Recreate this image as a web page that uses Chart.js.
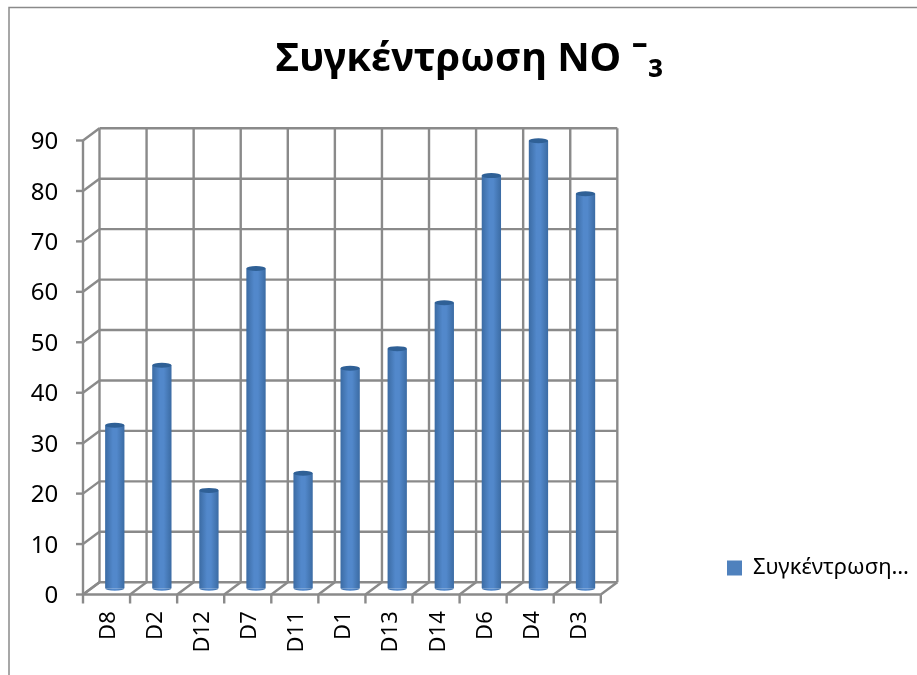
<!DOCTYPE html>
<html>
<head>
<meta charset="utf-8">
<style>
  html, body { margin: 0; padding: 0; background: #fff; }
  canvas { display: block; }
</style>
<script src="https://cdn.jsdelivr.net/npm/chart.js@4"></script>
</head>
<body>
<canvas id="myChart" width="917" height="675"></canvas>
<script>
const categorias = ['D8', 'D2', 'D12', 'D7', 'D11', 'D1', 'D13', 'D14', 'D6', 'D4', 'D3'];
const valores = [32.3, 44.2, 19.4, 63.4, 22.8, 43.6, 47.5, 56.6, 81.8, 88.7, 78.2];
const etiquetaSerie = 'Συγκέντρωση…';
const titulo = 'Συγκέντρωση ΝΟ ˉ₃';

const gris = '#8a8a8a';
const azul = '#4f81bd';
const fuente = '"Noto Sans", "Open Sans", sans-serif';

// depth of the fake 3D box, measured from the plane the bars stand on
const frente = { x: -8.25, y: 6.25 };
const fondo = { x: 8.25, y: -6 };

function linea(ctx, x1, y1, x2, y2) {
    ctx.beginPath();
    ctx.moveTo(x1, y1);
    ctx.lineTo(x2, y2);
    ctx.stroke();
}

function gradienteBarra(ctx, cx, radio) {
    const g = ctx.createLinearGradient(cx - radio, 0, cx + radio, 0);
    g.addColorStop(0, '#3b6ba3');
    g.addColorStop(0.4, '#5288cb');
    g.addColorStop(0.6, '#5288cb');
    g.addColorStop(1, '#3b6ba3');
    return g;
}

const caja3d = {
    id: 'caja3d',
    beforeDatasetsDraw(chart) {
        const { ctx, scales: { x, y } } = chart;
        const paso = (x.right - x.left) / categorias.length;
        ctx.save();
        ctx.strokeStyle = gris;
        ctx.lineWidth = 2.4;

        // horizontal lines: tick, side wall, back wall
        for (const tick of y.ticks) {
            const py = y.getPixelForValue(tick.value);
            linea(ctx, x.left + frente.x - 7, py + frente.y, x.left + frente.x, py + frente.y);
            linea(ctx, x.left + frente.x, py + frente.y, x.left + fondo.x, py + fondo.y);
            linea(ctx, x.left + fondo.x, py + fondo.y, x.right + fondo.x, py + fondo.y);
        }

        // vertical lines on the back wall, floor lines and ticks under the floor
        for (let i = 0; i <= categorias.length; i++) {
            const px = x.left + i * paso;
            linea(ctx, px + fondo.x, y.top + fondo.y, px + fondo.x, y.bottom + fondo.y);
            linea(ctx, px + frente.x, y.bottom + frente.y, px + fondo.x, y.bottom + fondo.y);
            linea(ctx, px + frente.x, y.bottom + frente.y, px + frente.x, y.bottom + frente.y + 9);
        }

        // front edges
        linea(ctx, x.left + frente.x, y.top + frente.y, x.left + frente.x, y.bottom + frente.y);
        linea(ctx, x.left + frente.x, y.bottom + frente.y, x.right + frente.x, y.bottom + frente.y);
        ctx.restore();
    },
    afterDatasetsDraw(chart) {
        // caps of the cylinders
        const { ctx } = chart;
        ctx.save();
        for (const barra of chart.getDatasetMeta(0).data) {
            const radio = barra.width / 2;
            ctx.fillStyle = '#2f6096';
            ctx.beginPath();
            ctx.ellipse(barra.x, barra.y, radio, 2.5, 0, 0, Math.PI * 2);
            ctx.fill();
            ctx.fillStyle = gradienteBarra(ctx, barra.x, radio);
            ctx.beginPath();
            ctx.ellipse(barra.x, barra.base, radio, 2.5, 0, 0, Math.PI);
            ctx.fill();
        }
        ctx.restore();
    }
};

const marcoYLeyenda = {
    id: 'marcoYLeyenda',
    beforeDraw(chart) {
        const { ctx } = chart;
        ctx.save();
        ctx.strokeStyle = gris;
        ctx.lineWidth = 1.5;
        ctx.beginPath();
        ctx.moveTo(9, 675);
        ctx.lineTo(9, 7.5);
        ctx.lineTo(917, 7.5);
        ctx.stroke();
        ctx.restore();
    },
    afterLayout(chart) {
        // legend sits low on the right, title a little right of centre
        const leyenda = chart.legend;
        leyenda.left = 727;
        leyenda.right = 917;
        leyenda.top = 557;
        leyenda.bottom = 603;
        chart.titleBlock.left = 0;
        chart.titleBlock.right = 939;
    }
};

new Chart(document.getElementById('myChart'), {
    type: 'bar',
    data: {
        labels: categorias,
        datasets: [{
            label: etiquetaSerie,
            data: valores,
            categoryPercentage: 1,
            barPercentage: 0.41,
            borderWidth: 0,
            backgroundColor(context) {
                if (context.type !== 'data' || !context.chart.chartArea) return azul;
                const { chart, dataIndex } = context;
                const cx = chart.scales.x.getPixelForValue(dataIndex);
                return gradienteBarra(chart.ctx, cx, 9.7);
            }
        }]
    },
    plugins: [caja3d, marcoYLeyenda],
    options: {
        responsive: false,
        animation: false,
        layout: { padding: { left: 0, right: 116, top: 0, bottom: 0 } },
        scales: {
            x: {
                grid: { display: false },
                border: { display: false },
                ticks: {
                    color: '#000',
                    font: { family: fuente, size: 22 },
                    minRotation: 90,
                    maxRotation: 90,
                    padding: 15,
                    labelOffset: -6
                },
                afterFit(scale) { scale.height = 675 - 588.25; }
            },
            y: {
                min: 0,
                max: 90,
                grid: { display: false },
                border: { display: false },
                ticks: {
                    stepSize: 10,
                    color: '#000',
                    font: { family: fuente, size: 24 },
                    padding: 25,
                    labelOffset: 8
                },
                afterFit(scale) { scale.width = 91.25; }
            }
        },
        plugins: {
            tooltip: { enabled: false },
            title: {
                display: true,
                text: titulo,
                color: '#000',
                font: { family: fuente, size: 40, weight: 'bold', lineHeight: 1.2 },
                padding: { top: 36, bottom: 50.25 }
            },
            legend: {
                display: true,
                position: 'right',
                align: 'start',
                labels: {
                    boxWidth: 15,
                    boxHeight: 15,
                    color: '#000',
                    font: { family: fuente, size: 22 },
                    padding: 0,
                    generateLabels(chart) {
                        const items = Chart.defaults.plugins.legend.labels.generateLabels(chart);
                        items.forEach(item => { item.fillStyle = azul; });
                        return items;
                    }
                }
            }
        }
    }
});
</script>
</body>
</html>
